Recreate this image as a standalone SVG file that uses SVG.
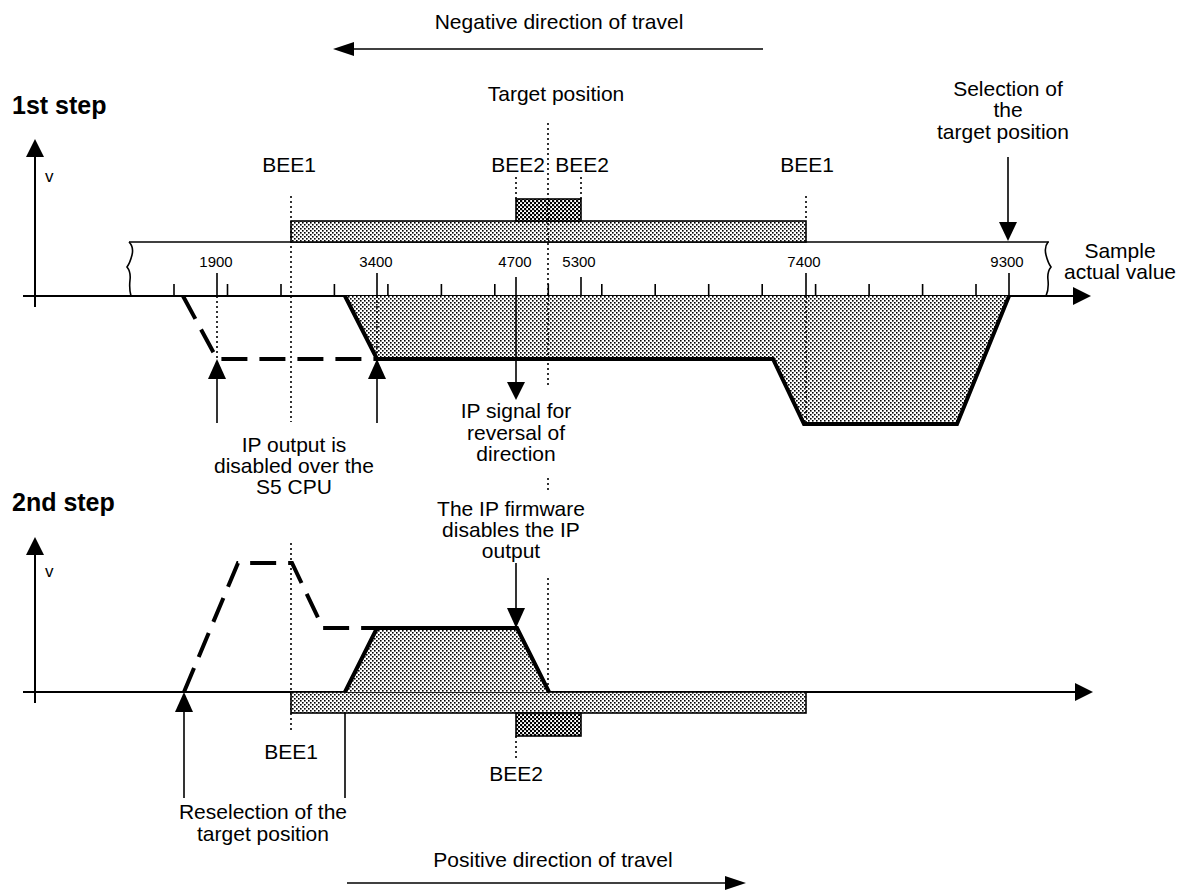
<svg xmlns="http://www.w3.org/2000/svg" width="1185" height="892" viewBox="0 0 1185 892">
<style>
.t{font-family:"Liberation Sans",Arial,sans-serif;font-size:21px;fill:#000;text-anchor:middle}
.n{font-size:15px}
.v{font-size:17px;text-anchor:start}
.h{font-weight:bold;font-size:25px;text-anchor:start}
.ln{stroke:#000;stroke-width:1.6;fill:none}
.ax{stroke:#000;stroke-width:2;fill:none}
.pr{stroke:#000;stroke-width:4;fill:none;stroke-linejoin:miter}
.da{stroke:#000;stroke-width:4;fill:none;stroke-dasharray:26 12}
.dt{stroke:#000;stroke-width:1.6;fill:none;stroke-dasharray:2 3}
.lf{fill:url(#light)}
.df{fill:url(#dark)}
.ah{fill:#000}
</style>
<defs>
<pattern id="light" width="4" height="4" patternUnits="userSpaceOnUse">
<rect width="4" height="4" fill="#fff"/>
<rect x="0" y="0" width="1.6" height="1.6" fill="#000"/>
<rect x="2" y="2" width="1.6" height="1.6" fill="#000"/>
</pattern>
<pattern id="dark" width="4" height="4" patternUnits="userSpaceOnUse">
<rect width="4" height="4" fill="#fff"/>
<rect x="0" y="0" width="2.2" height="2.2" fill="#000"/>
<rect x="2" y="2" width="2.2" height="2.2" fill="#000"/>
</pattern>
</defs>
<rect width="1185" height="892" fill="#fff"/>

<g id="direction-negative">
<text class="t" x="559" y="29">Negative direction of travel</text>
<line class="ln" x1="352" y1="49" x2="763" y2="49"/>
<polygon class="ah" points="333,49 354,42 354,56"/>
</g>

<g id="step1">
<text class="t h" x="12" y="114">1st step</text>
<line class="ax" x1="35" y1="150" x2="35" y2="307"/>
<polygon class="ah" points="35,139 26,157 44,157"/>
<text class="t v" x="45" y="182">v</text>
<line class="ax" x1="23" y1="296" x2="1075" y2="296"/>
<polygon class="ah" points="1091,296 1073,287 1073,305"/>
</g>

<g id="labels-top">
<text class="t" x="556" y="101">Target position</text>
<text class="t" x="289" y="172">BEE1</text>
<text class="t" x="518" y="172">BEE2</text>
<text class="t" x="582" y="172">BEE2</text>
<text class="t" x="807" y="172">BEE1</text>
<text class="t" x="1008" y="96">Selection of</text>
<text class="t" x="1008" y="117">the</text>
<text class="t" x="1003" y="139">target position</text>
<text class="t" x="1120" y="258">Sample</text>
<text class="t" x="1120" y="279">actual value</text>
</g>

<g id="band">
<path class="ln" d="M129,242 H1049"/>
<path class="ln" d="M129,242 q5,5 3,13 q-2,8 -5,12 q4,5 3,13 q-1,9 1,16"/>
<path class="ln" d="M1048,242 q-4,5 -2,13 q2,8 5,12 q-4,5 -3,13 q1,9 -2,16"/>
<rect class="lf" x="291" y="221" width="515" height="21" stroke="#000" stroke-width="1.6"/>
<rect class="df" x="516" y="199" width="65" height="22" stroke="#000" stroke-width="1.6"/>
</g>

<g id="scale">
<g class="ln">
<path d="M174,284V296 M227.5,284V296 M281,284V296 M334.4,284V296 M387.9,284V296 M441.4,284V296 M494.8,284V296 M548.3,284V296 M601.8,284V296 M655.2,284V296 M708.7,284V296 M762.2,284V296 M815.6,284V296 M869.1,284V296 M922.6,284V296 M976,284V296"/>
<path d="M217,273V296 M377,273V296 M581,277V296 M806,273V296 M1009,273V296"/>
</g>
<text class="t n" x="216" y="267">1900</text>
<text class="t n" x="376" y="267">3400</text>
<text class="t n" x="515" y="267">4700</text>
<text class="t n" x="579" y="267">5300</text>
<text class="t n" x="804" y="267">7400</text>
<text class="t n" x="1007" y="267">9300</text>
</g>

<g id="profile1">
<polygon class="lf" points="345,296 377,359 773,359 804,424 957,424 1009,296"/>
<path class="pr" d="M345,296 L377,359 H773 L804,424 H957 L1009,296"/>
<path class="da" d="M183,296 L217,359 H377"/>
</g>

<g id="connectors">
<g class="dt">
<path d="M291,196V422 M548,123V387 M548,478V490 M516,177V199 M581,177V199 M806,196V221 M806,296V424 M217,296V359 M377,296V359"/>
<path d="M291,543V730 M548,578V692 M516,628V713 M516,736V760"/>
</g>
<line class="ln" x1="516" y1="277" x2="516" y2="383"/>
<polygon class="ah" points="516,400 507,382 525,382"/>
<line class="ln" x1="1008" y1="157" x2="1008" y2="223"/>
<polygon class="ah" points="1008,241 999,222 1017,222"/>
<line class="ln" x1="217" y1="378" x2="217" y2="423"/>
<polygon class="ah" points="217,359 208,379 226,379"/>
<line class="ln" x1="377" y1="378" x2="377" y2="423"/>
<polygon class="ah" points="377,359 368,379 386,379"/>
<line class="ln" x1="516" y1="563" x2="516" y2="610"/>
<polygon class="ah" points="516,628 507,608 525,608"/>
<line class="ln" x1="184" y1="711" x2="184" y2="798"/>
<polygon class="ah" points="184,692 175,712 193,712"/>
<line class="ln" x1="345" y1="711" x2="345" y2="798"/>
<polygon class="ah" points="345,692 336,712 354,712"/>
</g>

<g id="labels-mid">
<text class="t" x="294" y="452">IP output is</text>
<text class="t" x="294" y="473">disabled over the</text>
<text class="t" x="294" y="494">S5 CPU</text>
<text class="t" x="516" y="418">IP signal for</text>
<text class="t" x="516" y="440">reversal of</text>
<text class="t" x="516" y="461">direction</text>
<text class="t" x="511" y="516">The IP firmware</text>
<text class="t" x="511" y="537">disables the IP</text>
<text class="t" x="511" y="558">output</text>
</g>

<g id="step2">
<text class="t h" x="12" y="511">2nd step</text>
<line class="ax" x1="35" y1="548" x2="35" y2="703"/>
<polygon class="ah" points="35,537 26,555 44,555"/>
<text class="t v" x="45" y="577">v</text>
<line class="ax" x1="23" y1="692" x2="1077" y2="692"/>
<polygon class="ah" points="1093,692 1075,683 1075,701"/>
<rect class="lf" x="291" y="692" width="515" height="21" stroke="#000" stroke-width="1.6"/>
<rect class="df" x="516" y="713" width="65" height="23" stroke="#000" stroke-width="1.6"/>
</g>

<g id="profile2">
<polygon class="lf" points="345,692 377,628 517,628 549,692"/>
<path class="pr" d="M345,692 L377,628 H517 L549,692"/>
<path class="da" d="M184,692 L238,563 H292 L323,628 H377"/>
</g>

<g id="labels-bottom">
<text class="t" x="291" y="759">BEE1</text>
<text class="t" x="516" y="781">BEE2</text>
<text class="t" x="263" y="819">Reselection of the</text>
<text class="t" x="263" y="841">target position</text>
</g>

<g id="direction-positive">
<text class="t" x="553" y="867">Positive direction of travel</text>
<line class="ln" x1="347" y1="883" x2="728" y2="883"/>
<polygon class="ah" points="746,883 725,876 725,890"/>
</g>
</svg>
